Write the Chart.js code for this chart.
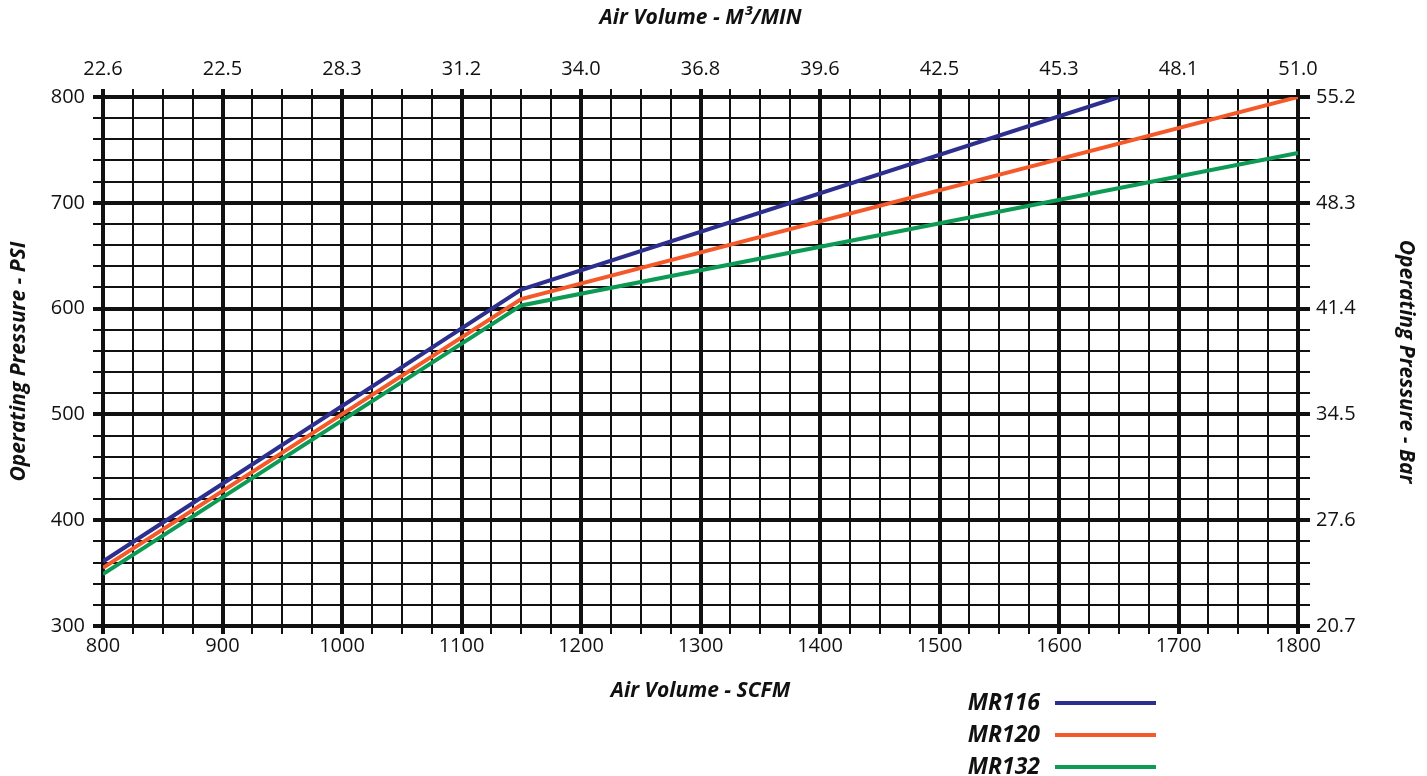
<!DOCTYPE html>
<html>
<head>
<meta charset="utf-8">
<script src="https://cdn.jsdelivr.net/npm/chart.js@4.4.1/dist/chart.umd.min.js"></script>
<style>
  html, body { margin: 0; padding: 0; background: #fff; }
  #wrap { width: 1427px; height: 776px; position: relative; }
</style>
</head>
<body>
<div id="wrap"><canvas id="pressureChart"></canvas></div>
<script>
// data
const seriesNames = ["MR116", "MR120", "MR132"];
const mr116Scfm = [800, 1150, 1650];
const mr116Psi = [361, 618, 800];
const mr120Scfm = [800, 1150, 1800];
const mr120Psi = [355, 609, 800];
const mr132Scfm = [800, 1150, 1800];
const mr132Psi = [349, 603, 747];
const m3minLabels = ["22.6", "22.5", "28.3", "31.2", "34.0", "36.8", "39.6", "42.5", "45.3", "48.1", "51.0"];
const barLabels = ["20.7", "27.6", "34.5", "41.4", "48.3", "55.2"];

const colors = ["#2d2f8f", "#f4592a", "#0d9a55"];
const ink = "#111";
const tickFont = { family: "'Open Sans', sans-serif", size: 20 };
const titleFont = { family: "'Open Sans', sans-serif", size: 21, weight: "bold", style: "italic" };

function pts(xs, ys) {
  return xs.map((x, i) => ({ x: x, y: ys[i] }));
}

// thick lines every 100, thin ones in between
const gridWidth = (ctx) => (ctx.tick && ctx.tick.value % 100 === 0 ? 4 : 2);

const legendPlugin = {
  id: "sideLegend",
  afterDraw(chart) {
    const ctx = chart.ctx;
    ctx.save();
    ctx.font = "italic bold 23px 'Open Sans', sans-serif";
    ctx.textAlign = "right";
    ctx.textBaseline = "middle";
    chart.data.datasets.forEach((ds, i) => {
      const y = 703 + i * 32;
      ctx.fillStyle = ink;
      ctx.fillText(ds.label, 1040, y);
      ctx.strokeStyle = ds.borderColor;
      ctx.lineWidth = 4;
      ctx.beginPath();
      ctx.moveTo(1055, y);
      ctx.lineTo(1156, y);
      ctx.stroke();
    });
    ctx.restore();
  },
};

const chart = new Chart(document.getElementById("pressureChart").getContext("2d"), {
  type: "line",
  data: {
    datasets: [
      { label: seriesNames[0], data: pts(mr116Scfm, mr116Psi), borderColor: colors[0] },
      { label: seriesNames[1], data: pts(mr120Scfm, mr120Psi), borderColor: colors[1] },
      { label: seriesNames[2], data: pts(mr132Scfm, mr132Psi), borderColor: colors[2] },
    ],
  },
  options: {
    responsive: true,
    maintainAspectRatio: false,
    animation: false,
    layout: { padding: 0 },
    elements: {
      line: { borderWidth: 4, tension: 0 },
      point: { radius: 0 },
    },
    plugins: {
      legend: { display: false },
      tooltip: { enabled: false },
    },
    scales: {
      x: {
        type: "linear",
        position: "bottom",
        min: 800,
        max: 1800,
        afterFit: (s) => { s.height = 150; },
        ticks: {
          stepSize: 25,
          autoSkip: false,
          maxRotation: 0,
          color: ink,
          font: tickFont,
          padding: 0,
          callback: (v) => (v % 100 === 0 ? v : ""),
        },
        grid: { color: ink, lineWidth: gridWidth, tickLength: 8, tickColor: ink },
        border: { color: ink, width: 4 },
        title: { display: true, text: "Air Volume - SCFM", color: ink, font: titleFont, padding: { top: 0, bottom: 72 } },
      },
      x2: {
        type: "linear",
        position: "top",
        min: 800,
        max: 1800,
        afterFit: (s) => { s.height = 97; },
        ticks: {
          stepSize: 25,
          autoSkip: false,
          maxRotation: 0,
          color: ink,
          font: tickFont,
          padding: 8,
          callback: (v) => (v % 100 === 0 ? m3minLabels[(v - 800) / 100] : ""),
        },
        grid: { drawOnChartArea: false, color: ink, lineWidth: gridWidth, tickLength: 8, tickColor: ink },
        border: { color: ink, width: 4 },
        title: { display: true, text: "Air Volume - M\u00B3/MIN", color: ink, font: titleFont, padding: { top: 5, bottom: 0 } },
      },
      y: {
        type: "linear",
        position: "left",
        min: 300,
        max: 800,
        afterFit: (s) => { s.width = 103; },
        ticks: {
          stepSize: 20,
          autoSkip: false,
          color: ink,
          font: tickFont,
          padding: 8,
          callback: (v) => (v % 100 === 0 ? v : ""),
        },
        grid: { color: ink, lineWidth: gridWidth, tickLength: 10, tickColor: ink },
        border: { color: ink, width: 4 },
        title: { display: true, text: "Operating Pressure - PSI", color: ink, font: titleFont, padding: { top: 6, bottom: 0 } },
      },
      y2: {
        type: "linear",
        position: "right",
        min: 300,
        max: 800,
        afterFit: (s) => { s.width = 129; },
        ticks: {
          stepSize: 20,
          autoSkip: false,
          color: ink,
          font: tickFont,
          padding: 6,
          callback: (v) => (v % 100 === 0 ? barLabels[(v - 300) / 100] : ""),
        },
        grid: { drawOnChartArea: false, color: ink, lineWidth: gridWidth, tickLength: 12, tickColor: ink },
        border: { color: ink, width: 4 },
        title: { display: true, text: "Operating Pressure - Bar", color: ink, font: titleFont, padding: { top: 8, bottom: 0 } },
      },
    },
  },
  plugins: [legendPlugin],
});
</script>
</body>
</html>
